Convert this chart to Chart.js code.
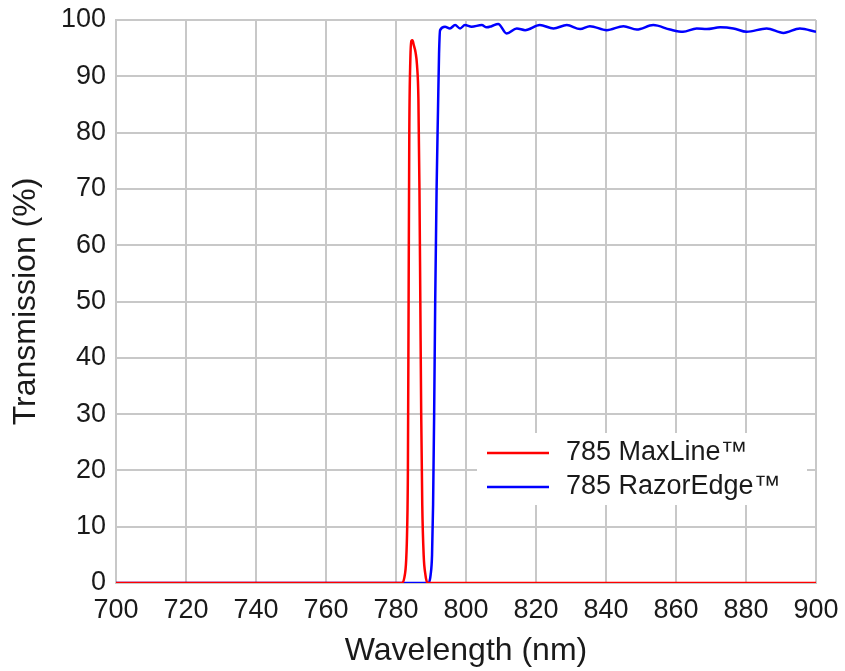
<!DOCTYPE html>
<html>
<head>
<meta charset="utf-8">
<script src="https://cdn.jsdelivr.net/npm/chart.js@4"></script>
<style>
  body { margin: 0; background: #fff; }
  #wrap { width: 845px; height: 671px; }
</style>
</head>
<body>
<div id="wrap"><canvas id="filterChart"></canvas></div>
<script>
// 785 MaxLine laser line filter
const maxLineWl = [700, 781.6, 782.4, 782.9, 783.2, 783.4, 783.6, 783.8, 784.1, 784.4, 784.7, 785.1, 785.6, 786.0, 786.4, 786.7, 786.95, 787.2, 787.5, 787.9, 788.4, 789.0, 900];
const maxLineT = [0, 0, 1, 4, 10, 20, 50, 80, 93, 96.3, 96.4, 95.5, 94.2, 92, 86, 70, 50, 30, 14, 5, 1.5, 0, 0];

// 785 RazorEdge long-pass edge filter
const razorWl = [700, 789.3, 789.9, 790.3, 790.6, 790.9, 791.2, 791.6, 792.0, 792.3, 792.6,
    794, 795.4, 796.9, 798.3, 799.7, 801.6, 804.5, 805.9, 807.3, 809.2, 811.6, 814.5, 816.9,
    821.1, 825, 828.8, 832.6, 835.4, 840.2, 845, 848.8, 853.5, 858.3, 862, 865.9, 868.8,
    872.6, 876.4, 880.2, 885.9, 890.7, 895.4, 900];
const razorT = [0, 0, 1.5, 5, 14, 30, 50, 70, 84, 94, 98.2,
    98.8, 98.5, 99.1, 98.5, 99.1, 98.8, 99.1, 98.7, 98.9, 99.3, 97.6, 98.5, 98.2,
    99.1, 98.5, 99.1, 98.4, 98.9, 98.2, 98.9, 98.3, 99.1, 98.3, 97.9, 98.5, 98.4,
    98.7, 98.5, 97.9, 98.5, 97.7, 98.5, 97.9];

const seriesNames = ['785 MaxLine\u2122', '785 RazorEdge\u2122'];
const seriesColors = ['#ff0000', '#0000ff'];

const xMin = 700, xMax = 900, xStep = 20;
const yMin = 0, yMax = 100, yStep = 10;

function toPoints(xs, ys) {
    return xs.map((x, i) => ({ x: x, y: ys[i] }));
}

const fontFamily = '"Liberation Sans", Arial, Helvetica, sans-serif';
const gridColor = '#c8c8c8';
const textColor = '#1a1a1a';

// legend drawn inside the plot, on a white box
const insideLegend = {
    id: 'insideLegend',
    afterDatasetsDraw(chart) {
        const ctx = chart.ctx;
        ctx.save();
        ctx.fillStyle = '#fff';
        ctx.fillRect(477, 433, 330, 72);
        ctx.font = '27px ' + fontFamily;
        ctx.textBaseline = 'middle';
        ctx.textAlign = 'left';
        chart.data.datasets.forEach((ds, i) => {
            const y = 453 + i * 34;
            ctx.strokeStyle = ds.borderColor;
            ctx.lineWidth = 2.7;
            ctx.beginPath();
            ctx.moveTo(487, y);
            ctx.lineTo(549, y);
            ctx.stroke();
            ctx.fillStyle = textColor;
            ctx.fillText(ds.label, 566, y);
        });
        ctx.restore();
    }
};

new Chart(document.getElementById('filterChart'), {
    type: 'line',
    data: {
        datasets: [{
            label: seriesNames[0],
            data: toPoints(maxLineWl, maxLineT),
            borderColor: seriesColors[0],
            borderWidth: 2.5,
            pointRadius: 0,
            cubicInterpolationMode: 'monotone'
        }, {
            label: seriesNames[1],
            data: toPoints(razorWl, razorT),
            borderColor: seriesColors[1],
            borderWidth: 2.5,
            pointRadius: 0,
            cubicInterpolationMode: 'monotone'
        }]
    },
    options: {
        responsive: true,
        maintainAspectRatio: false,
        animation: false,
        layout: { padding: { top: 20, right: 29, bottom: 0, left: 0 } },
        plugins: {
            legend: { display: false },
            tooltip: { enabled: false }
        },
        scales: {
            x: {
                type: 'linear',
                min: xMin,
                max: xMax,
                afterFit(scale) {
                    scale.height = 88;
                    scale.paddingLeft = 0;
                    scale.paddingRight = 0;
                },
                ticks: {
                    stepSize: xStep,
                    padding: 11,
                    color: textColor,
                    font: { family: fontFamily, size: 27 },
                    maxRotation: 0
                },
                grid: { color: gridColor, lineWidth: 2, drawTicks: false },
                border: { color: gridColor, width: 2 },
                title: {
                    display: true,
                    text: 'Wavelength (nm)',
                    color: textColor,
                    font: { family: fontFamily, size: 32 },
                    padding: { top: 0, bottom: 1 }
                }
            },
            y: {
                min: yMin,
                max: yMax,
                afterFit(scale) {
                    scale.width = 116;
                    scale.paddingTop = 0;
                    scale.paddingBottom = 0;
                },
                ticks: {
                    stepSize: yStep,
                    padding: 10,
                    color: textColor,
                    font: { family: fontFamily, size: 27 }
                },
                grid: { color: gridColor, lineWidth: 2, drawTicks: false },
                border: { color: gridColor, width: 2 },
                title: {
                    display: true,
                    text: 'Transmission (%)',
                    color: textColor,
                    font: { family: fontFamily, size: 32 },
                    padding: { top: 7, bottom: 0 }
                }
            }
        }
    },
    plugins: [insideLegend]
});
</script>
</body>
</html>
